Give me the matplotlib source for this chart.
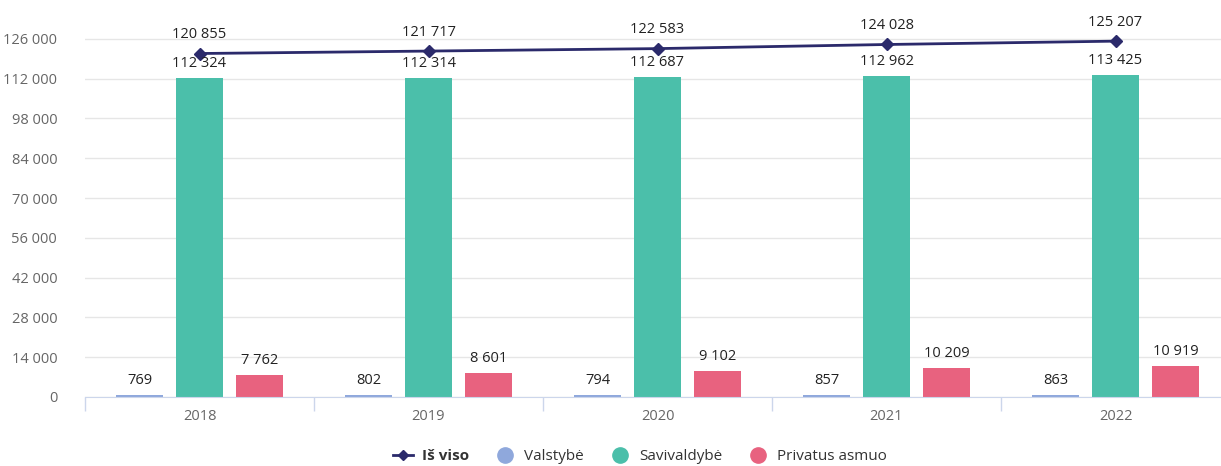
import numpy as np
import matplotlib
matplotlib.use("Agg")
import matplotlib.pyplot as plt
from matplotlib.lines import Line2D

plt.rcParams['font.family'] = ['Open Sans', 'DejaVu Sans']

years = ['2018', '2019', '2020', '2021', '2022']
total = [120855, 121717, 122583, 124028, 125207]
valstybe = [769, 802, 794, 857, 863]
savivaldybe = [112324, 112314, 112687, 112962, 113425]
privatus = [7762, 8601, 9102, 10209, 10919]
yticks = np.arange(0, 126001, 14000)


def fmt(v):
    return f"{v:,}".replace(",", " ")


W, H = 1221, 466
fig = plt.figure(figsize=(W / 100, H / 100), dpi=100)
ax = fig.add_axes([85 / W, 69 / H, 1145 / W, 378 / H])

x = np.arange(len(years))
bw = 0.205
off = 0.262
c_blue, c_teal, c_pink, c_line = '#8fa8dc', '#4bbfaa', '#e8627f', '#2b2a6b'

for vals, dx, col in [(valstybe, -off, c_blue), (savivaldybe, 0, c_teal), (privatus, off, c_pink)]:
    bars = ax.bar(x + dx, vals, width=bw, color=col, zorder=2)
    for b, v in zip(bars, vals):
        ax.annotate(fmt(v), (b.get_x() + b.get_width() / 2, v), xytext=(0, 5),
                    textcoords='offset points', ha='center', va='bottom',
                    fontsize=10.5, color='#222222', zorder=4)

ax.plot(x, total, color=c_line, lw=2, marker='D', ms=6, zorder=3)
for xi, v in zip(x, total):
    ax.annotate(fmt(v), (xi, v), xytext=(0, 8), textcoords='offset points',
                ha='center', va='bottom', fontsize=10.5, color='#222222', zorder=4)

ax.set_xlim(-0.5, len(years) - 0.5)
ax.set_ylim(0, 133000)
ax.set_yticks(yticks)
ax.set_yticklabels([fmt(v) for v in yticks], fontsize=10.5, color='#666666')
ax.set_xticks(x)
ax.set_xticklabels(years, fontsize=10.5, color='#666666')
ax.set_xticks(np.arange(-0.5, len(years)), minor=True)
ax.tick_params(axis='x', which='major', length=0, pad=9)
ax.tick_params(axis='x', which='minor', length=10, color='#ccd6eb', width=1)
ax.tick_params(axis='y', length=0, pad=20)
ax.grid(axis='y', color='#e6e6e6', lw=1, zorder=0)
for s in ['top', 'right', 'left']:
    ax.spines[s].set_visible(False)
ax.spines['bottom'].set_color('#ccd6eb')

handles = [
    Line2D([0], [0], color=c_line, lw=2, marker='D', ms=5),
    Line2D([0], [0], color=c_blue, lw=0, marker='o', ms=11),
    Line2D([0], [0], color=c_teal, lw=0, marker='o', ms=11),
    Line2D([0], [0], color=c_pink, lw=0, marker='o', ms=11),
]
labels = ['Iš viso', 'Valstybė', 'Savivaldybė', 'Privatus asmuo']
leg = fig.legend(handles, labels, loc='center', bbox_to_anchor=(640 / W, 9 / H), ncol=4,
                 frameon=False, fontsize=11, handlelength=1.3, columnspacing=1.7,
                 handletextpad=0.6)
for t in leg.get_texts():
    t.set_color('#333333')
leg.get_texts()[0].set_fontweight('bold')

fig.savefig('out.png', dpi=100)
